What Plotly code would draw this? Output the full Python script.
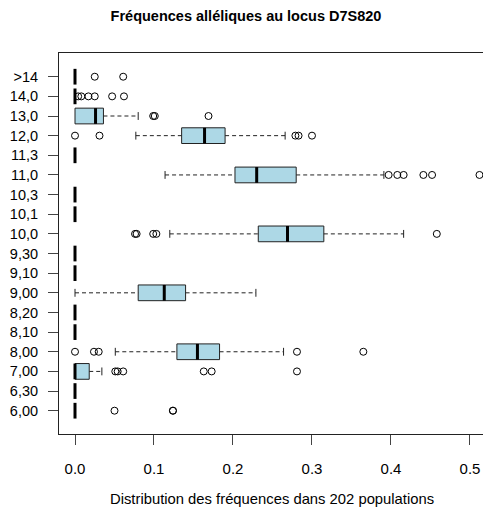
import plotly.graph_objects as go

# Categories (bottom to top)
categories = ["6,00", "6,30", "7,00", "8,00", "8,10", "8,20", "9,00", "9,10", "9,30",
              "10,0", "10,1", "10,3", "11,0", "11,3", "12,0", "13,0", "14,0", ">14"]
q1 = [0, 0, 0, 0.129, 0, 0, 0.080, 0, 0, 0.232, 0, 0, 0.2025, 0, 0.135, 0, 0, 0]
median = [0, 0, 0, 0.155, 0, 0, 0.113, 0, 0, 0.269, 0, 0, 0.230, 0, 0.164, 0.026, 0, 0]
q3 = [0, 0, 0.018, 0.183, 0, 0, 0.140, 0, 0, 0.315, 0, 0, 0.280, 0, 0.190, 0.036, 0, 0]
lower_whisker = [0, 0, 0, 0.051, 0, 0, 0.0, 0, 0, 0.120, 0, 0, 0.114, 0, 0.077, 0, 0, 0]
upper_whisker = [0, 0, 0.034, 0.264, 0, 0, 0.229, 0, 0, 0.416, 0, 0, 0.391, 0, 0.266, 0.080, 0, 0]
outliers = [
    [0.050, 0.124, 0.124],
    [],
    [0.051, 0.054, 0.061, 0.163, 0.173, 0.281],
    [0.0, 0.024, 0.030, 0.281, 0.365],
    [],
    [],
    [],
    [],
    [],
    [0.076, 0.078, 0.099, 0.103, 0.458],
    [],
    [],
    [0.397, 0.408, 0.416, 0.441, 0.452, 0.512],
    [],
    [0.0, 0.031, 0.279, 0.283, 0.300],
    [0.099, 0.101, 0.169],
    [0.004, 0.008, 0.017, 0.025, 0.047, 0.062],
    [0.025, 0.061],
]
x_ticks = [0.0, 0.1, 0.2, 0.3, 0.4, 0.5]
title_text = "Fréquences alléliques au locus D7S820"
xlabel_text = "Distribution des fréquences dans 202 populations"

HALF = 0.4      # half box height (category units)
STAPLE = 0.2    # half staple height

ypos = list(range(1, len(categories) + 1))

# Boxes
bx, by = [], []
for y, a, b in zip(ypos, q1, q3):
    if b > a:
        bx += [a, b, b, a, a, None]
        by += [y - HALF, y - HALF, y + HALF, y + HALF, y - HALF, None]

# Whiskers (dashed) and staples
wx, wy, sx, sy = [], [], [], []
for y, lw, a, b, uw in zip(ypos, lower_whisker, q1, q3, upper_whisker):
    if lw < a:
        wx += [lw, a, None]; wy += [y, y, None]
        sx += [lw, lw, None]; sy += [y - STAPLE, y + STAPLE, None]
    if uw > b:
        wx += [b, uw, None]; wy += [y, y, None]
        sx += [uw, uw, None]; sy += [y - STAPLE, y + STAPLE, None]

# Medians
mx, my = [], []
for y, m in zip(ypos, median):
    mx += [m, m, None]; my += [y - HALF, y + HALF, None]

# Outliers
ox, oy = [], []
for y, vals in zip(ypos, outliers):
    for v in vals:
        ox.append(v); oy.append(y)

fig = go.Figure()
fig.add_trace(go.Scatter(x=bx, y=by, mode="lines", fill="toself",
                         fillcolor="#ADD8E6", line=dict(color="#222222", width=1),
                         hoverinfo="skip"))
fig.add_trace(go.Scatter(x=wx, y=wy, mode="lines",
                         line=dict(color="#222222", width=1, dash="4px,3px"),
                         hoverinfo="skip"))
fig.add_trace(go.Scatter(x=sx, y=sy, mode="lines",
                         line=dict(color="#222222", width=1), hoverinfo="skip"))
fig.add_trace(go.Scatter(x=mx, y=my, mode="lines",
                         line=dict(color="black", width=3), hoverinfo="skip"))
fig.add_trace(go.Scatter(x=ox, y=oy, mode="markers",
                         marker=dict(symbol="circle-open", size=7, color="black",
                                     line=dict(width=1, color="black"))))

# The page body has an 8px margin, so the figure is sized/positioned to compensate.
W, H = 483, 503
font_family = "Liberation Sans, Arial, sans-serif"
fig.update_layout(
    width=W, height=H,
    margin=dict(l=51, r=0, t=45, b=77, autoexpand=False),
    paper_bgcolor="white", plot_bgcolor="white",
    showlegend=False,
    font=dict(family=font_family, size=14, color="black"),
    title=dict(text="<b>" + title_text + "</b>", x=238 / W, xref="container",
               xanchor="center", y=1 - 8 / H, yanchor="middle",
               automargin=False,
               font=dict(size=14.5, color="black")),
    xaxis=dict(range=[-0.02025, 0.5266], tickvals=x_ticks,
               ticktext=["%.1f" % v for v in x_ticks],
               showgrid=False, zeroline=False, showline=True, mirror=True,
               linecolor="#222222", linewidth=1, ticks="outside", ticklen=10,
               tickcolor="#444444", tickwidth=1, ticklabelstandoff=11,
               automargin=False, tickfont=dict(size=15)),
    yaxis=dict(range=[-0.186, 19.207], tickvals=ypos, ticktext=categories,
               showgrid=False, zeroline=False, showline=True, mirror=False,
               linecolor="#222222", linewidth=1, ticks="outside", ticklen=10,
               tickcolor="#444444", tickwidth=1, ticklabelstandoff=7,
               automargin=False, tickfont=dict(size=14.5)),
    annotations=[dict(text=xlabel_text, xref="paper", yref="paper",
                      x=(272 - 59) / 432, y=-(499 - 434) / 381,
                      xanchor="center", yanchor="middle", showarrow=False,
                      font=dict(size=14.8, color="black"))],
)

fig.write_html("out.html")
